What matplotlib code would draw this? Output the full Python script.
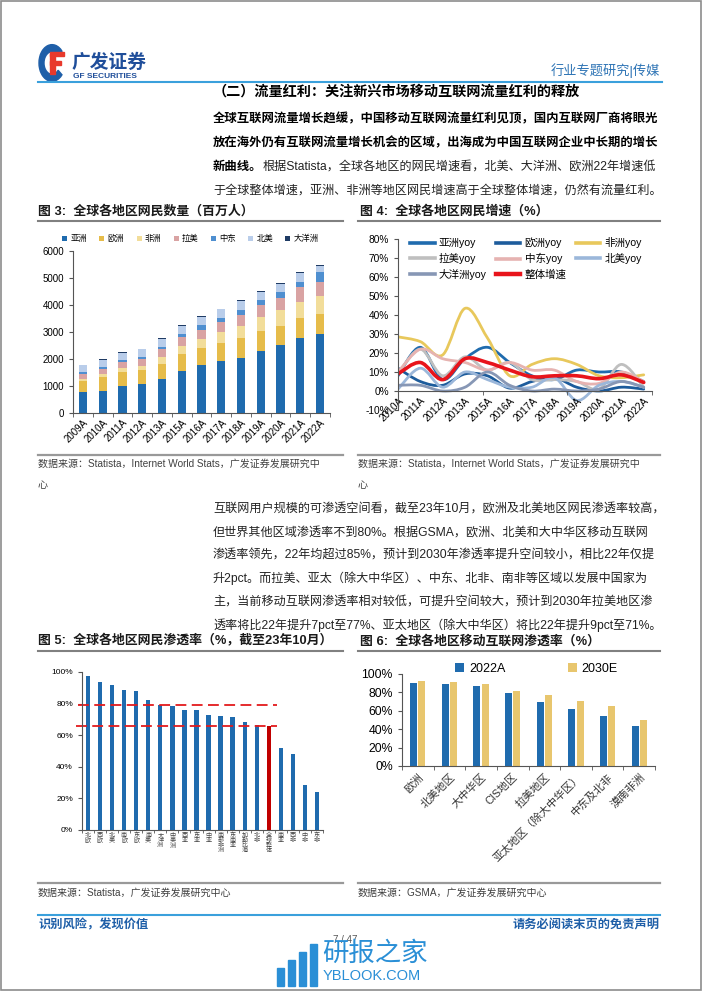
import numpy as np
import matplotlib
matplotlib.use("Agg")
import matplotlib.pyplot as plt
from matplotlib.path import Path
from matplotlib.patches import PathPatch, Rectangle, Wedge
from matplotlib.lines import Line2D

plt.rcParams['font.family'] = ['Liberation Sans', 'Noto Sans CJK SC', 'DejaVu Sans']
plt.rcParams['axes.unicode_minus'] = False

# ---- data: figure 3 (internet users, million) ----
years3 = ['2009A', '2010A', '2011A', '2012A', '2013A', '2015A', '2016A',
          '2017A', '2018A', '2019A', '2020A', '2021A', '2022A']
asia = [764, 813, 1010, 1072, 1257, 1540, 1786, 1934, 2045, 2292, 2513, 2772, 2920]
europe = [420, 505, 500, 505, 566, 640, 616, 653, 727, 739, 727, 764, 751]
africa = [86, 110, 140, 167, 234, 300, 345, 407, 456, 517, 579, 591, 678]
latam = [180, 204, 236, 250, 300, 320, 345, 382, 406, 456, 456, 542, 517]
mideast = [58, 63, 77, 90, 100, 120, 150, 160, 185, 185, 197, 185, 358]
namerica = [260, 266, 260, 270, 300, 310, 330, 300, 330, 310, 320, 345, 222]
oceania = [21, 21, 24, 25, 27, 27, 27, 28, 30, 30, 35, 35, 35]
regions3 = ['亚洲', '欧洲', '非洲', '拉美', '中东', '北美', '大洋洲']

# ---- data: figure 4 (yoy growth, %) ----
years4 = ['2010A', '2011A', '2012A', '2013A', '2015A', '2016A',
          '2017A', '2018A', '2019A', '2020A', '2021A', '2022A']
asia_yoy = [8, 23, 6, 17, 23, 15, 8, 6, 11, 10, 10, 5]
europe_yoy = [12, 5, 3, 9, 8, 1.5, 5, 7, 2, 0, 2, 1]
africa_yoy = [28.5, 26, 19, 43.5, 28, 8, 14, 17, 14, 8, 7, 8.5]
latam_yoy = [9, 22, 8, 18, 11, 15, 6, 6, 5, 1, 14, 2]
mideast_yoy = [10, 22, 17, 15, 11, 15, 11, 11, 5, 4, 10, 5]
na_yoy = [1, 12, 2, 10, 6, 2, 2, 7, -5, 3, 5, 2]
oceania_yoy = [3, 3, 0, 2, 10, 3, 0, 1, 0, 1, 5, 2]
total_yoy = [9, 15, 6, 17, 15, 11, 7.5, 8, 8, 6.5, 8.5, 4.5]

# ---- data: figure 5 (internet penetration, Oct 2023) ----
regions5 = ['北欧', '西欧', '北美', '南欧', '东欧', '南美', '大洋洲', '中美洲', '西亚', '东亚',
            '中亚', '南部非洲', '东南亚', '加勒比海', '北非', '全球整体', '南亚', '西非', '中非', '东非']
pen5 = [97.3, 93.5, 91.8, 88.6, 88.0, 82.1, 79.4, 78.5, 76.0, 75.8,
        73.1, 72.0, 71.6, 68.4, 66.3, 65.7, 51.6, 47.8, 28.2, 23.8]

# ---- data: figure 6 (mobile internet penetration) ----
regions6 = ['欧洲', '北美地区', '大中华区', 'CIS地区', '拉美地区', '亚太地区（除大中华区）', '中东及北非', '漠南非洲']
mob2022 = [90, 89, 87, 79, 70, 62, 54, 43]
mob2030 = [92, 91, 89, 82, 77, 71, 65, 50]

W, H = 702, 991
fig = plt.figure(figsize=(W / 100, H / 100), dpi=100)


def T(x, y, s, **kw):
    fig.text(x / W, 1 - y / H, s, **kw)


def hline(x0, x1, y, color, lw):
    fig.add_artist(Line2D([x0 / W, x1 / W], [1 - y / H, 1 - y / H], color=color, lw=lw))


def box(l, t, r, b):
    return [l / W, 1 - b / H, (r - l) / W, (b - t) / H]


def clean(ax):
    for s in ['top', 'right']:
        ax.spines[s].set_visible(False)
    for s in ['left', 'bottom']:
        ax.spines[s].set_color('#555555')


# page border
fig.add_artist(Rectangle((0.001, 0.001), 0.998, 0.998, fill=False, ec='#8c8c8c', lw=1.2))

# header logo
fig.add_artist(Wedge((52 / W, 1 - 63 / H), 13 / W, 40, 320, width=5 / W, color='#1f5fa8'))
fig.add_artist(Rectangle((50 / W, 1 - 74 / H), 5 / W, 20 / H, color='#e8392c'))
fig.add_artist(Rectangle((50 / W, 1 - 56 / H), 14 / W, 4 / H, color='#e8392c'))
fig.add_artist(Rectangle((50 / W, 1 - 65 / H), 11 / W, 3.5 / H, color='#e8392c'))
T(72, 63, '广发证券', fontsize=13.5, fontweight='bold', color='#1f4e9a', va='center')
T(73, 77, 'GF SECURITIES', fontsize=6, fontweight='bold', color='#1f4e9a', va='center')
T(660, 71, '行业专题研究|传媒', fontsize=9.5, color='#2e74b5', ha='right', va='center')
hline(38, 662, 82, '#3aa0dc', 1.5)

# section heading and paragraph 1
T(213, 92, '（二）流量红利：关注新兴市场移动互联网流量红利的释放', fontsize=10.2,
  fontweight='bold', va='center')
para1 = [
    ('全球互联网流量增长趋缓，中国移动互联网流量红利见顶，国内互联网厂商将眼光', ''),
    ('放在海外仍有互联网流量增长机会的区域，出海成为中国互联网企业中长期的增长', ''),
    ('新曲线。', '根据Statista，全球各地区的网民增速看，北美、大洋洲、欧洲22年增速低'),
    ('', '于全球整体增速，亚洲、非洲等地区网民增速高于全球整体增速，仍然有流量红利。'),
]
for i, (bold, norm) in enumerate(para1):
    y = 119 + i * 23.8
    x = 213
    if bold:
        T(x, y, bold, fontsize=8.9, fontweight='bold', va='center')
        x += 12.45 * len(bold)
    if norm:
        T(x, y, norm, fontsize=8.7, va='center', color='#222222')

# captions
T(38, 211, '图 3:  全球各地区网民数量（百万人）', fontsize=9.3, fontweight='bold', va='center', color='#1a1a1a')
T(360, 211, '图 4:  全球各地区网民增速（%）', fontsize=9.3, fontweight='bold', va='center', color='#1a1a1a')
hline(38, 343, 221, '#808080', 1.5)
hline(358, 660, 221, '#808080', 1.5)

# ---- figure 3 ----
ax3 = fig.add_axes(box(73, 251, 330, 413))
colors3 = ['#1f6bae', '#e6bc4a', '#f2dd9a', '#d9a3a3', '#4f8fd0', '#b9cdea', '#1f3b64']
series3 = [asia, europe, africa, latam, mideast, namerica, oceania]
x3 = np.arange(len(years3))
bottom = np.zeros(len(years3))
for vals, col, name in zip(series3, colors3, regions3):
    ax3.bar(x3, vals, 0.42, bottom=bottom, color=col, label=name)
    bottom += np.array(vals)
ax3.set_xlim(-0.5, len(years3) - 0.5)
ax3.set_ylim(0, 6000)
ax3.set_yticks(range(0, 6001, 1000))
ax3.set_xticks(x3)
ax3.set_xticklabels(years3, rotation=45, ha='right', rotation_mode='anchor', fontsize=7)
ax3.set_xticks(np.arange(-0.5, len(years3), 1), minor=True)
ax3.tick_params(axis='x', which='major', length=0, pad=3)
ax3.tick_params(axis='x', which='minor', length=3, color='#555555')
ax3.tick_params(axis='y', labelsize=7, length=3, color='#555555')
clean(ax3)
ax3.legend(loc='center left', bbox_to_anchor=(58 / W, 1 - 239 / H), bbox_transform=fig.transFigure,
           ncol=7, fontsize=6, frameon=False, handlelength=0.6, handleheight=0.6,
           handletextpad=0.4, columnspacing=1.45, borderpad=0)

# ---- figure 4 ----
ax4 = fig.add_axes(box(398, 239, 652, 410))
ax4.spines['bottom'].set_position(('data', 0))


def smooth_path(xs, ys):
    pts = np.column_stack([xs, ys]).astype(float)
    ext = np.vstack([pts[0], pts, pts[-1]])
    verts = [pts[0]]
    codes = [Path.MOVETO]
    for i in range(len(pts) - 1):
        p0, p1, p2, p3 = ext[i], ext[i + 1], ext[i + 2], ext[i + 3]
        verts += [p1 + (p2 - p0) / 6, p2 - (p3 - p1) / 6, p2]
        codes += [Path.CURVE4] * 3
    return Path(verts, codes)


series4 = [
    ('亚洲yoy', asia_yoy, '#1f6bae', 2.0),
    ('欧洲yoy', europe_yoy, '#1d5c9c', 2.0),
    ('非洲yoy', africa_yoy, '#e8c85c', 2.0),
    ('拉美yoy', latam_yoy, '#bfbfbf', 2.0),
    ('中东yoy', mideast_yoy, '#e6b3b1', 2.0),
    ('北美yoy', na_yoy, '#9bb7da', 2.0),
    ('大洋洲yoy', oceania_yoy, '#8797b5', 2.0),
    ('整体增速', total_yoy, '#e8141b', 2.6),
]
x4 = np.arange(len(years4))
handles = {}
for name, vals, col, lw in series4:
    p = PathPatch(smooth_path(x4, np.array(vals) / 100), fill=False, ec=col, lw=lw,
                  capstyle='round', joinstyle='round')
    ax4.add_patch(p)
    handles[name] = Line2D([], [], color=col, lw=lw + 0.6)
xr = len(years4) - 1 + 0.37
ax4.set_xlim(0, xr)
ax4.set_ylim(-0.1, 0.8)
ax4.set_yticks(np.arange(-0.1, 0.81, 0.1))
ax4.set_yticklabels([f'{v}%' for v in range(-10, 81, 10)], fontsize=7.3)
ax4.xaxis.remove_overlapping_locs = False
ax4.set_xticks(x4)
ax4.set_xticklabels(years4, rotation=45, ha='right', va='top',
                    rotation_mode='anchor', fontsize=7.3)
ax4.set_xticks(np.linspace(0, xr, 4), minor=True)
ax4.tick_params(axis='x', which='major', length=0, pad=3)
ax4.tick_params(axis='x', which='minor', length=3, color='#555555')
ax4.tick_params(axis='y', length=3, color='#555555')
clean(ax4)
order = ['亚洲yoy', '拉美yoy', '大洋洲yoy', '欧洲yoy', '中东yoy', '整体增速', '非洲yoy', '北美yoy']
ax4.legend([handles[n] for n in order], order, loc='upper left',
           bbox_to_anchor=(405 / W, 1 - 232 / H), bbox_transform=fig.transFigure,
           ncol=3, fontsize=7.6, frameon=False, handlelength=2.3, handletextpad=0.4,
           columnspacing=0.9, labelspacing=0.45, borderpad=0)

# sources row 1
hline(38, 343, 455, '#999999', 1.6)
hline(358, 660, 455, '#999999', 1.6)
src = '数据来源：Statista，Internet World Stats，广发证券发展研究中'
T(38, 464, src, fontsize=7.2, color='#404040', va='center')
T(38, 485, '心', fontsize=7.2, color='#404040', va='center')
T(358, 464, src, fontsize=7.2, color='#404040', va='center')
T(358, 485, '心', fontsize=7.2, color='#404040', va='center')

# paragraph 2
para2 = [
    '互联网用户规模的可渗透空间看，截至23年10月，欧洲及北美地区网民渗透率较高，',
    '但世界其他区域渗透率不到80%。根据GSMA，欧洲、北美和大中华区移动互联网',
    '渗透率领先，22年均超过85%，预计到2030年渗透率提升空间较小，相比22年仅提',
    '升2pct。而拉美、亚太（除大中华区）、中东、北非、南非等区域以发展中国家为',
    '主，当前移动互联网渗透率相对较低，可提升空间较大，预计到2030年拉美地区渗',
    '透率将比22年提升7pct至77%、亚太地区（除大中华区）将比22年提升9pct至71%。',
]
for i, line in enumerate(para2):
    T(213, 509 + i * 23.2, line, fontsize=8.7, va='center', color='#222222')

T(38, 641, '图 5:  全球各地区网民渗透率（%，截至23年10月）', fontsize=9.3, fontweight='bold',
  va='center', color='#1a1a1a')
T(360, 641, '图 6:  全球各地区移动互联网渗透率（%）', fontsize=9.3, fontweight='bold',
  va='center', color='#1a1a1a')
hline(38, 343, 651, '#808080', 1.5)
hline(358, 660, 651, '#808080', 1.5)

# ---- figure 5 ----
ax5 = fig.add_axes(box(82, 672, 323, 830))
x5 = np.arange(len(regions5))
g = regions5.index('全球整体')
cols5 = ['#c00000' if i == g else '#1f6bae' for i in x5]
ax5.bar(x5, pen5, 0.36, color=cols5)
ax5.plot([-0.8, g + 0.7], [pen5[6], pen5[6]], color='#e31a1c', lw=1.3, dashes=(6, 3), clip_on=False)
ax5.plot([-1.0, g + 0.7], [pen5[g], pen5[g]], color='#e31a1c', lw=1.3, dashes=(6, 3), clip_on=False)
ax5.set_xlim(-0.5, len(regions5) - 0.5)
ax5.set_ylim(0, 100)
ax5.set_yticks(range(0, 101, 20))
ax5.set_yticklabels([f'{v}%' for v in range(0, 101, 20)], fontsize=6)
ax5.set_xticks(x5)
ax5.set_xticklabels(['\n'.join(r) for r in regions5], fontsize=4.4, linespacing=0.95,
                    va='top', color='#444444')
ax5.set_xticks(np.arange(-0.5, len(regions5), 1), minor=True)
ax5.tick_params(axis='x', which='major', length=0, pad=2)
ax5.tick_params(axis='x', which='minor', length=2.5, color='#555555')
ax5.tick_params(axis='y', length=3, color='#555555')
clean(ax5)

# ---- figure 6 ----
ax6 = fig.add_axes(box(402, 674, 655, 766))
x6 = np.arange(len(regions6))
ax6.bar(x6 - 0.13, mob2022, 0.22, color='#1f6bae', label='2022A')
ax6.bar(x6 + 0.13, mob2030, 0.22, color='#e8c66e', label='2030E')
ax6.set_xlim(-0.5, len(regions6) - 0.5)
ax6.set_ylim(0, 100)
ax6.set_yticks(range(0, 101, 20))
ax6.set_yticklabels([f'{v}%' for v in range(0, 101, 20)], fontsize=8.8)
ax6.set_xticks(x6)
ax6.set_xticklabels(regions6, rotation=45, ha='right', rotation_mode='anchor',
                    fontsize=7.8, color='#333333')
ax6.set_xticks(np.arange(-0.5, len(regions6), 1), minor=True)
ax6.tick_params(axis='x', which='major', length=0, pad=4)
ax6.tick_params(axis='x', which='minor', length=3, color='#555555')
ax6.tick_params(axis='y', length=3, color='#555555')
clean(ax6)
ax6.legend(loc='center left', bbox_to_anchor=(449 / W, 1 - 669 / H), bbox_transform=fig.transFigure,
           ncol=2, fontsize=9, frameon=False, handlelength=0.7, handleheight=0.7,
           handletextpad=0.4, columnspacing=5.0, borderpad=0)

# sources row 2
hline(38, 343, 883, '#999999', 1.6)
hline(358, 660, 883, '#999999', 1.6)
T(38, 893, '数据来源：Statista，广发证券发展研究中心', fontsize=7.2, color='#404040', va='center')
T(358, 893, '数据来源：GSMA，广发证券发展研究中心', fontsize=7.2, color='#404040', va='center')

# footer
hline(38, 660, 915, '#3aa0dc', 1.5)
T(38, 925, '识别风险，发现价值', fontsize=8.8, fontweight='bold', color='#1f5fa8', va='center')
T(660, 925, '请务必阅读末页的免责声明', fontsize=8.8, fontweight='bold', color='#1f5fa8',
  va='center', ha='right')
T(345, 940, '7 / 47', fontsize=7, color='#555555', va='center', ha='center')

# watermark
for i, hgt in enumerate([18, 26, 34, 42]):
    fig.add_artist(Rectangle(((277 + i * 11) / W, 1 - 986 / H), 7 / W, hgt / H, color='#2a8fd6'))
T(322, 954, '研报之家', fontsize=19, color='#2a8fd6', va='center')
T(323, 976, 'YBLOOK.COM', fontsize=10.5, color='#2a8fd6', va='center')

fig.savefig('out.png', dpi=100)
